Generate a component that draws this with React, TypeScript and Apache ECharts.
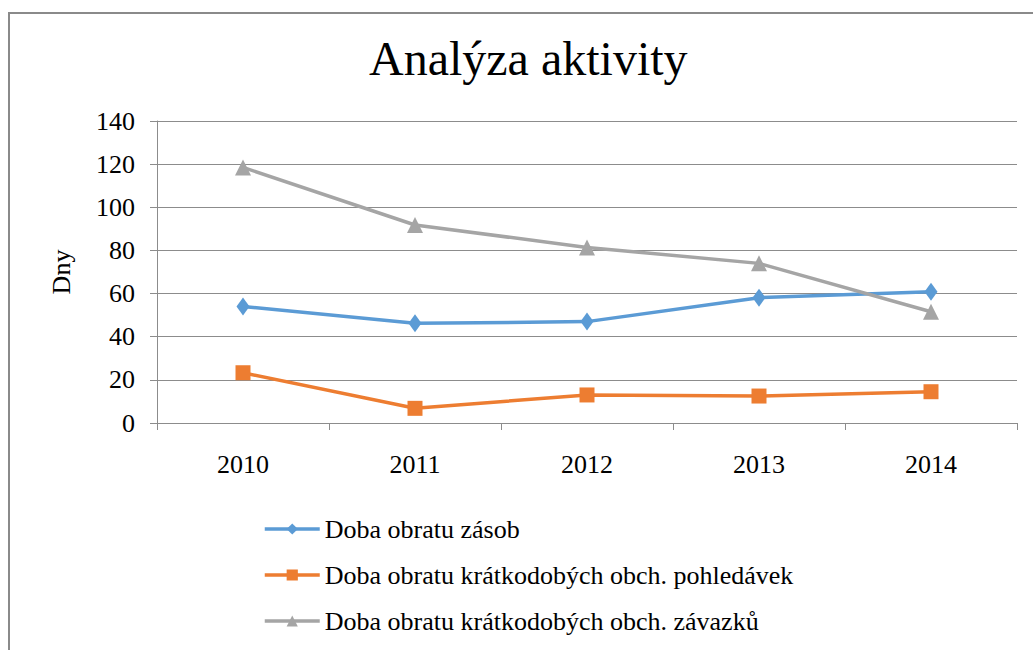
import React, { useEffect, useRef } from "react";
import * as echarts from "echarts";

const years = ["2010", "2011", "2012", "2013", "2014"];
const zasoby = [54, 46.2, 47, 58.1, 60.9];
const pohledavky = [23.3, 6.8, 13, 12.5, 14.5];
const zavazky = [118.5, 91.8, 81.4, 74, 51.6];
const seriesNames = [
  "Doba obratu zásob",
  "Doba obratu krátkodobých obch. pohledávek",
  "Doba obratu krátkodobých obch. závazků",
];
const colors = ["#5B9BD5", "#ED7D31", "#A5A5A5"];
const symbols = ["diamond", "rect", "triangle"];
const symbolSizes = [[13, 18], 15, 16];

const FONT = "'Liberation Serif', 'Times New Roman', serif";

export default function App() {
  const ref = useRef<HTMLDivElement>(null);
  useEffect(() => {
    if (!ref.current) return;
    const chart = echarts.init(ref.current, undefined, { renderer: "svg" });
    const data = [zasoby, pohledavky, zavazky];
    chart.setOption({
      animation: false,
      backgroundColor: "#ffffff",
      textStyle: { fontFamily: FONT },
      title: {
        text: "Analýza aktivity",
        left: 369,
        top: 34,
        padding: 0,
        textStyle: { fontFamily: FONT, fontSize: 48, fontWeight: "normal", color: "#000" },
      },
      graphic: [
        {
          type: "rect",
          shape: { x: 9, y: 13, width: 1200, height: 800 },
          style: { fill: "none", stroke: "#8a8a8a", lineWidth: 2 },
          silent: true,
        },
      ],
      grid: { left: 157, right: 16, top: 121, bottom: 227, containLabel: false },
      legend: {
        orient: "vertical",
        left: 263,
        top: 514,
        padding: 0,
        itemWidth: 55,
        itemHeight: 14,
        itemGap: 16,
        lineStyle: { width: 3.5 },
        textStyle: { fontFamily: FONT, fontSize: 26, color: "#000", lineHeight: 30 },
        data: seriesNames,
      },
      xAxis: {
        type: "category",
        data: years,
        boundaryGap: true,
        axisLine: { lineStyle: { color: "#8c8c8c", width: 1 } },
        axisTick: { show: true, length: 7, inside: false, lineStyle: { color: "#8c8c8c" } },
        axisLabel: { fontFamily: FONT, fontSize: 26, color: "#000", margin: 28 },
      },
      yAxis: {
        type: "value",
        min: 0,
        max: 140,
        interval: 20,
        name: "Dny",
        nameLocation: "middle",
        nameRotate: 90,
        nameGap: 83,
        nameTextStyle: { fontFamily: FONT, fontSize: 26, color: "#000" },
        axisLine: { show: true, lineStyle: { color: "#8c8c8c", width: 1 } },
        axisTick: { show: true, length: 7, lineStyle: { color: "#8c8c8c" } },
        axisLabel: { fontFamily: FONT, fontSize: 26, color: "#000", margin: 22 },
        splitLine: { lineStyle: { color: "#8c8c8c", width: 1 } },
      },
      series: seriesNames.map((name, i) => ({
        name,
        type: "line",
        data: data[i],
        symbol: symbols[i],
        symbolSize: symbolSizes[i],
        showSymbol: true,
        lineStyle: { color: colors[i], width: 3.5 },
        itemStyle: { color: colors[i] },
      })),
    });
    return () => chart.dispose();
  }, []);
  return (
    <div
      ref={ref}
      style={{ position: "fixed", left: 0, top: 0, width: 1033, height: 650 }}
    />
  );
}
